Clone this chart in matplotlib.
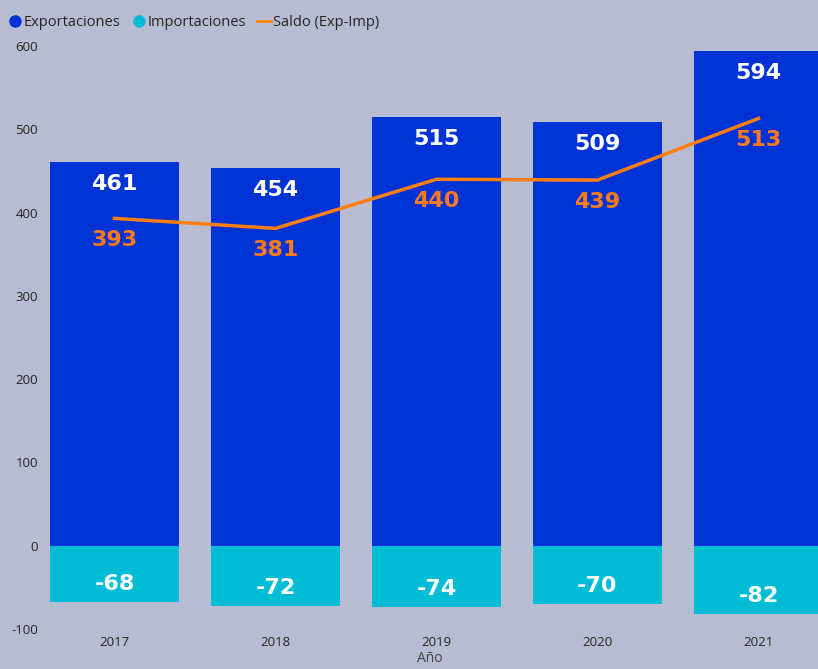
import matplotlib
matplotlib.use("Agg")
import matplotlib.pyplot as plt
from matplotlib.lines import Line2D
import numpy as np

plt.rcParams["axes.unicode_minus"] = False

# data
years = ["2017", "2018", "2019", "2020", "2021"]
exportaciones = [461, 454, 515, 509, 594]
importaciones = [-68, -72, -74, -70, -82]
saldo = [393, 381, 440, 439, 513]

bg = "#b8bcd2"
c_exp = "#0033d6"
c_imp = "#00bcd4"
c_line = "#ff7f0e"
c_lbl = "#ff7a1c"

fig = plt.figure(figsize=(8.18, 6.69), dpi=100, facecolor=bg)
ax = fig.add_axes([42 / 818, 40 / 669, 776 / 818, 583 / 669])
ax.set_facecolor(bg)

x = np.arange(len(years))
ax.bar(x, exportaciones, width=0.8, color=c_exp, zorder=2)
ax.bar(x, importaciones, width=0.8, color=c_imp, zorder=2)
ax.plot(x, saldo, color=c_line, lw=2.5, zorder=3)

lbl = dict(ha="center", va="center", fontsize=16, fontweight="bold",
           family="DejaVu Sans", textcoords="offset points", zorder=4)
for xi, v in zip(x, exportaciones):
    ax.annotate(str(v), (xi, v), xytext=(0, -16), color="white", **lbl)
for xi, v in zip(x, importaciones):
    ax.annotate(str(v), (xi, v), xytext=(0, 13), color="white", **lbl)
for xi, v in zip(x, saldo):
    ax.annotate(str(v), (xi, v), xytext=(0, -15.5), color=c_lbl, **lbl)

ax.set_xlim(-0.45, 4.37)
ax.set_ylim(-100, 600)
ax.set_yticks(range(-100, 601, 100))
ax.set_xticks(x)
ax.set_xticklabels(years)
for s in ax.spines.values():
    s.set_visible(False)
ax.tick_params(length=0, labelsize=9.5, labelcolor="#252423", pad=3)
ax.tick_params(axis="x", pad=5)
for t in ax.get_xticklabels() + ax.get_yticklabels():
    t.set_family("Open Sans")
ax.set_xlabel("Año", fontsize=10, color="#444444", family="Open Sans", labelpad=1.5)

handles = [
    Line2D([], [], marker="o", ls="", color=c_exp, markersize=8),
    Line2D([], [], marker="o", ls="", color=c_imp, markersize=8),
    Line2D([], [], color=c_line, lw=2),
]
leg = fig.legend(handles, ["Exportaciones", "Importaciones", "Saldo (Exp-Imp)"],
                 loc="upper left", bbox_to_anchor=(-0.006, 0.997), ncol=3,
                 frameon=False, handlelength=0.9, handletextpad=0.15,
                 columnspacing=0.8, prop={"family": "Open Sans", "size": 10.5})
for t in leg.get_texts():
    t.set_color("#252423")

fig.savefig("out.png", dpi=100, facecolor=bg)
